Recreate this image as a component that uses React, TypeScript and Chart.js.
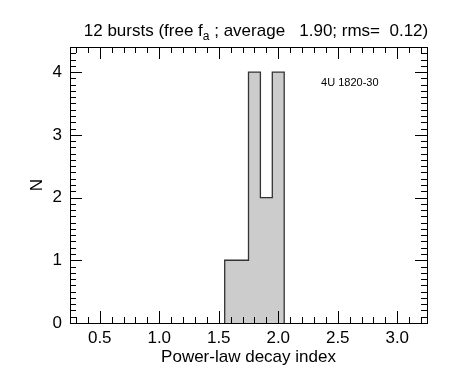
import React, { useEffect, useRef } from 'react';
import { Chart, registerables } from 'chart.js';

Chart.register(...registerables);

// ---- data ----
const binEdges = [1.55, 1.65, 1.75, 1.85, 1.95, 2.05];
const counts = [1, 1, 4, 2, 4];
const xTicks = [0.5, 1.0, 1.5, 2.0, 2.5, 3.0];
const yTicks = [0, 1, 2, 3, 4];
const xRange = [0.25, 3.25];
const yRange = [0, 4.4];
const minorStepX = 0.1;
const minorStepY = 0.1;
const titleMain = '12 bursts (free f';
const titleSub = 'a';
const titleRest = ' ; average   1.90; rms=  0.12)';
const sourceLabel = '4U 1820-30';
const sourcePos = { x: 2.36, y: 3.83 };
const xTitle = 'Power-law decay index';
const yTitle = 'N';

const FONT = '"Liberation Sans", Arial, Helvetica, sans-serif';
const FS = 17;

function outlinePoints() {
  const pts: { x: number; y: number }[] = [{ x: binEdges[0], y: 0 }];
  for (let i = 0; i < counts.length; i++) {
    pts.push({ x: binEdges[i], y: counts[i] });
    pts.push({ x: binEdges[i + 1], y: counts[i] });
  }
  pts.push({ x: binEdges[binEdges.length - 1], y: 0 });
  return pts;
}

const framePlugin = {
  id: 'frameTicks',
  afterDraw(chart: any) {
    const { ctx, chartArea: a, scales } = chart;
    const xs = scales.x;
    const ys = scales.y;
    ctx.save();
    ctx.strokeStyle = '#000';
    ctx.lineWidth = 1;
    ctx.strokeRect(Math.round(a.left) + 0.5, Math.round(a.top) + 0.5, Math.round(a.right - a.left), Math.round(a.bottom - a.top));
    const major = 12;
    const minor = 6;
    ctx.beginPath();
    const xStart = Math.ceil(xRange[0] / minorStepX - 1e-9);
    const xEnd = Math.floor(xRange[1] / minorStepX + 1e-9);
    for (let k = xStart; k <= xEnd; k++) {
      const v = k * minorStepX;
      const isMajor = xTicks.some((t) => Math.abs(t - v) < 1e-6);
      const len = isMajor ? major : minor;
      const px = Math.round(xs.getPixelForValue(v)) + 0.5;
      ctx.moveTo(px, a.bottom);
      ctx.lineTo(px, a.bottom - len);
      ctx.moveTo(px, a.top);
      ctx.lineTo(px, a.top + len);
    }
    const yStart = Math.ceil(yRange[0] / minorStepY - 1e-9);
    const yEnd = Math.floor(yRange[1] / minorStepY + 1e-9);
    for (let k = yStart; k <= yEnd; k++) {
      const v = k * minorStepY;
      const isMajor = yTicks.some((t) => Math.abs(t - v) < 1e-6);
      const len = isMajor ? major : minor;
      const py = Math.round(ys.getPixelForValue(v)) + 0.5;
      ctx.moveTo(a.left, py);
      ctx.lineTo(a.left + len, py);
      ctx.moveTo(a.right, py);
      ctx.lineTo(a.right - len, py);
    }
    ctx.stroke();

    // title with subscript
    ctx.fillStyle = '#000';
    ctx.textBaseline = 'alphabetic';
    ctx.textAlign = 'left';
    ctx.font = `${FS}px ${FONT}`;
    const w1 = ctx.measureText(titleMain).width;
    ctx.font = `12px ${FONT}`;
    const w2 = ctx.measureText(titleSub).width;
    ctx.font = `${FS}px ${FONT}`;
    const w3 = ctx.measureText(titleRest).width;
    const total = w1 + w2 + w3;
    const cx = 256;
    const x0 = cx - total / 2;
    const base = 36;
    ctx.fillText(titleMain, x0, base);
    ctx.font = `12px ${FONT}`;
    ctx.fillText(titleSub, x0 + w1, base + 4);
    ctx.font = `${FS}px ${FONT}`;
    ctx.fillText(titleRest, x0 + w1 + w2, base);

    // source label
    ctx.font = `11px ${FONT}`;
    ctx.textBaseline = 'middle';
    ctx.fillText(sourceLabel, xs.getPixelForValue(sourcePos.x), ys.getPixelForValue(sourcePos.y));
    ctx.restore();
  },
};

export default function App() {
  const ref = useRef<HTMLCanvasElement>(null);
  useEffect(() => {
    document.body.style.margin = '0';
    const canvas = ref.current;
    if (!canvas) return;
    const chart = new Chart(canvas, {
      type: 'line',
      data: {
        datasets: [
          {
            data: outlinePoints(),
            borderColor: '#333333',
            borderWidth: 1.3,
            backgroundColor: '#cccccc',
            fill: 'origin',
            pointRadius: 0,
            tension: 0,
          },
        ],
      },
      options: {
        animation: false,
        responsive: false,
        devicePixelRatio: 1,
        layout: { padding: { top: 47, right: 22, left: 0, bottom: 0 } },
        plugins: { legend: { display: false }, tooltip: { enabled: false } },
        scales: {
          x: {
            type: 'linear',
            min: xRange[0],
            max: xRange[1],
            grid: { display: false, drawTicks: false },
            border: { display: false },
            ticks: {
              color: '#000',
              font: { family: FONT, size: FS },
              padding: 5,
              maxRotation: 0,
              callback: (v: any) => Number(v).toFixed(1),
            },
            afterBuildTicks: (s: any) => {
              s.ticks = xTicks.map((v) => ({ value: v }));
            },
            afterFit: (s: any) => {
              s.height = 43;
            },
            title: {
              display: true,
              text: xTitle,
              color: '#000',
              font: { family: FONT, size: FS, lineHeight: 1 },
              padding: { top: 0, bottom: 0 },
            },
          },
          y: {
            type: 'linear',
            min: yRange[0],
            max: yRange[1],
            grid: { display: false, drawTicks: false },
            border: { display: false },
            ticks: {
              color: '#000',
              font: { family: FONT, size: FS },
              padding: 8,
              callback: (v: any) => String(v),
            },
            afterBuildTicks: (s: any) => {
              s.ticks = yTicks.map((v) => ({ value: v }));
            },
            afterFit: (s: any) => {
              s.width = 70;
            },
            title: {
              display: true,
              text: yTitle,
              color: '#000',
              font: { family: FONT, size: FS, lineHeight: 1 },
              padding: { top: 29, bottom: 0 },
            },
          },
        },
      },
      plugins: [framePlugin],
    });
    return () => chart.destroy();
  }, []);
  return (
    <div style={{ width: 449, height: 366, background: '#fff' }}>
      <canvas ref={ref} width={449} height={366} />
    </div>
  );
}
